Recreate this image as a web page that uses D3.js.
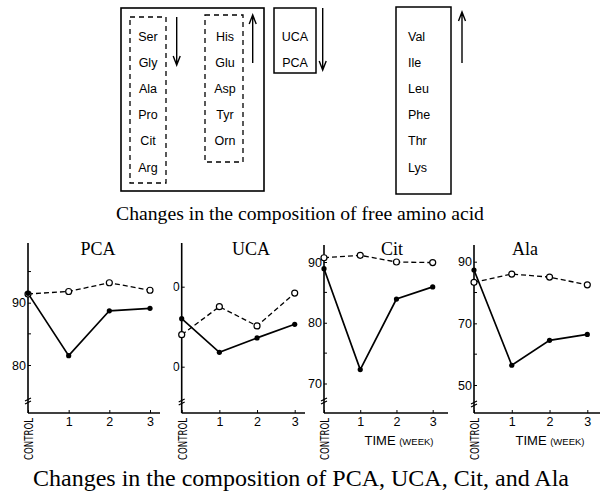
<!DOCTYPE html>
<html lang="en">
<head>
<meta charset="utf-8">
<title>Free amino acid changes</title>
<script src="https://cdn.jsdelivr.net/npm/d3@7"></script>
<style>
	body { margin: 0; background: white; }
	svg { display: block; }
	.serif { font-family: "Liberation Serif", "Times New Roman", serif; }
	.sans { font-family: "Liberation Sans", Arial, sans-serif; }
	.narrow { font-family: "Liberation Sans Narrow", "DejaVu Sans Condensed", sans-serif; }
</style>
</head>
<body>
<svg id="chart" width="605" height="493"></svg>
<script>
// top part: amino acid groups
var groupA = ["Ser", "Gly", "Ala", "Pro", "Cit", "Arg"]   // decrease
var groupB = ["His", "Glu", "Asp", "Tyr", "Orn"]          // increase
var groupC = ["UCA", "PCA"]                               // decrease
var groupD = ["Val", "Ile", "Leu", "Phe", "Thr", "Lys"]   // increase

// bottom part: time course
var weeks = ["CONTROL", "1", "2", "3"]
var panelNames = ["PCA", "UCA", "Cit", "Ala"]
var pcaSolid = [91.5, 81.5, 88.7, 89.1]
var pcaDashed = [91.4, 91.8, 93.2, 92.0]
var ucaSolid = [16.0, 11.8, 13.6, 15.3]
var ucaDashed = [14.0, 17.5, 15.1, 19.2]
var citSolid = [88.9, 72.3, 83.9, 85.9]
var citDashed = [90.7, 91.1, 90.0, 89.9]
var alaSolid = [87.3, 56.4, 64.5, 66.4]
var alaDashed = [83.3, 86.0, 85.0, 82.5]
var pcaTicks = [80, 90], pcaMinor = [85, 95]
var ucaTicks = [10, 20], ucaMinor = []
var citTicks = [70, 80, 90], citMinor = [75, 85]
var alaTicks = [50, 70, 90], alaMinor = [60, 80]

var svg = d3.select("#chart")

// ---------- top diagram ----------
var rowY = d3.scalePoint().domain(d3.range(6)).range([36, 167])

svg.append("rect").attr("x", 121).attr("y", 8).attr("width", 143).attr("height", 183)
	.attr("fill", "none").attr("stroke", "black").attr("stroke-width", 1.6)
svg.append("rect").attr("x", 130).attr("y", 17).attr("width", 36).attr("height", 166)
	.attr("fill", "none").attr("stroke", "black").attr("stroke-width", 1.3).attr("stroke-dasharray", "5,4")
svg.append("rect").attr("x", 205).attr("y", 15).attr("width", 38).attr("height", 147)
	.attr("fill", "none").attr("stroke", "black").attr("stroke-width", 1.3).attr("stroke-dasharray", "5,4")
svg.append("rect").attr("x", 274).attr("y", 8).attr("width", 42).attr("height", 65)
	.attr("fill", "none").attr("stroke", "black").attr("stroke-width", 1.5)
svg.append("rect").attr("x", 396).attr("y", 7).attr("width", 55).attr("height", 187)
	.attr("fill", "none").attr("stroke", "black").attr("stroke-width", 1.5)

function listText(arr, x, anchor) {
	svg.append("g").selectAll("text").data(arr).enter().append("text")
		.attr("class", "sans").attr("font-size", 12.5)
		.attr("x", x).attr("y", function(d, i) { return rowY(i) + 4.5 })
		.attr("text-anchor", anchor).text(function(d) { return d })
}
listText(groupA, 148, "middle")
listText(groupB, 225, "middle")
listText(groupC, 295, "middle")
listText(groupD, 408, "start")

// arrows, tip is (x,y2)
function arrow(x, y1, y2) {
	var dir = y2 > y1 ? -1 : 1
	svg.append("path")
		.attr("d", "M" + x + "," + y1 + "L" + x + "," + y2 +
			"M" + (x - 3.5) + "," + (y2 + dir * 9) + "L" + x + "," + y2 + "L" + (x + 3.5) + "," + (y2 + dir * 9))
		.attr("fill", "none").attr("stroke", "black").attr("stroke-width", 1.4)
}
arrow(176.7, 17, 65)
arrow(252.7, 63, 15)
arrow(322.7, 8, 70)
arrow(462, 63, 12)

svg.append("text").attr("class", "serif").attr("font-size", 19.7)
	.attr("x", 300).attr("y", 220).attr("text-anchor", "middle")
	.text("Changes in the composition of free amino acid")

// ---------- time-course panels ----------
var panels = [
	{ name: panelNames[0], solid: pcaSolid, dashed: pcaDashed, ticks: pcaTicks, minor: pcaMinor,
	  xr: [28, 150], xEnd: 160, yd: [80, 90], yr: [365, 302.7], top: 243, brk: 400, titleX: 98, time: false },
	{ name: panelNames[1], solid: ucaSolid, dashed: ucaDashed, ticks: ucaTicks, minor: ucaMinor,
	  xr: [181.7, 294.7], xEnd: 305, yd: [10, 20], yr: [366.7, 286.7], top: 243, brk: 401, titleX: 251, time: false, clip: true },
	{ name: panelNames[2], solid: citSolid, dashed: citDashed, ticks: citTicks, minor: citMinor,
	  xr: [324, 432.7], xEnd: 448, yd: [70, 90], yr: [383.5, 262], top: 245, brk: 400, titleX: 392, time: true },
	{ name: panelNames[3], solid: alaSolid, dashed: alaDashed, ticks: alaTicks, minor: alaMinor,
	  xr: [474, 587.3], xEnd: 600, yd: [50, 90], yr: [385, 261.7], top: 245, brk: 403, titleX: 525, time: true }
]
var baseY = 413

// UCA tick labels are cut by the PCA panel in the original, clip is in axis coords
svg.append("defs").append("clipPath").attr("id", "ucaClip")
	.append("rect").attr("x", -8.3).attr("y", 230).attr("width", 20).attr("height", 180)

panels.forEach(function(p) {
	var x = d3.scalePoint().domain(weeks).range(p.xr)
	var y = d3.scaleLinear().domain(p.yd).range(p.yr)
	var g = svg.append("g")
	var x0 = p.xr[0]

	// title
	g.append("text").attr("class", "serif").attr("font-size", 18)
		.attr("x", p.titleX).attr("y", 255).attr("text-anchor", "middle").text(p.name)

	// y axis line with break
	g.append("line").attr("x1", x0).attr("x2", x0).attr("y1", p.top).attr("y2", baseY)
		.attr("stroke", "black").attr("stroke-width", 1.6)
	g.append("path")
		.attr("d", "M" + (x0 - 3) + "," + (p.brk + 1) + "L" + (x0 + 3) + "," + (p.brk - 2) +
			"M" + (x0 - 3) + "," + (p.brk + 4) + "L" + (x0 + 3) + "," + (p.brk + 1))
		.attr("stroke", "black").attr("stroke-width", 1.2).attr("fill", "none")

	var yAxis = d3.axisLeft(y).tickValues(p.ticks).tickSizeInner(-3).tickSizeOuter(0).tickPadding(2)
	var ya = g.append("g").attr("transform", "translate(" + x0 + ",0)").call(yAxis)
	ya.select(".domain").remove()
	ya.selectAll("text").attr("class", "sans").attr("font-size", 12.5).attr("fill", "black")
	if (p.clip) ya.attr("clip-path", "url(#ucaClip)")
	g.selectAll(".minor").data(p.minor).enter().append("line").attr("class", "minor")
		.attr("x1", x0).attr("x2", x0 + 3)
		.attr("y1", function(d) { return y(d) }).attr("y2", function(d) { return y(d) })
		.attr("stroke", "black").attr("stroke-width", 1)

	// x axis
	g.append("line").attr("x1", x0).attr("x2", p.xEnd).attr("y1", baseY).attr("y2", baseY)
		.attr("stroke", "black").attr("stroke-width", 1.6)
	var xAxis = d3.axisBottom(x).tickSizeInner(-3).tickSizeOuter(0).tickPadding(4)
		.tickFormat(function(d) { return d == "CONTROL" ? "" : d })
	var xa = g.append("g").attr("transform", "translate(0," + baseY + ")").call(xAxis)
	xa.select(".domain").remove()
	xa.selectAll("text").attr("class", "sans").attr("font-size", 12.5).attr("fill", "black")
	g.append("text").attr("class", "narrow").attr("font-size", 12)
		.attr("transform", "translate(" + (x0 + 5) + ",418) rotate(-90)")
		.attr("text-anchor", "end").attr("textLength", 42).attr("lengthAdjust", "spacingAndGlyphs")
		.text(weeks[0])
	if (p.time) {
		var t = g.append("text").attr("class", "sans").attr("font-size", 13)
			.attr("x", (p.xr[0] + p.xEnd) / 2 + 13).attr("y", 445).attr("text-anchor", "middle")
		t.append("tspan").text("TIME ")
		t.append("tspan").attr("font-size", 9.5).text("(WEEK)")
	}

	// series
	var line = d3.line().x(function(d, i) { return x(weeks[i]) }).y(function(d) { return y(d) })
	g.append("path").datum(p.dashed).attr("d", line).attr("fill", "none")
		.attr("stroke", "black").attr("stroke-width", 1.3).attr("stroke-dasharray", "5,3")
	g.append("path").datum(p.solid).attr("d", line).attr("fill", "none")
		.attr("stroke", "black").attr("stroke-width", 1.7)
	g.selectAll(".open").data(p.dashed).enter().append("circle").attr("class", "open")
		.attr("cx", function(d, i) { return x(weeks[i]) }).attr("cy", function(d) { return y(d) })
		.attr("r", 3).attr("fill", "white").attr("stroke", "black").attr("stroke-width", 1.2)
	g.selectAll(".filled").data(p.solid).enter().append("circle").attr("class", "filled")
		.attr("cx", function(d, i) { return x(weeks[i]) }).attr("cy", function(d) { return y(d) })
		.attr("r", 2.6).attr("fill", "black")
})

svg.append("text").attr("class", "serif").attr("font-size", 24)
	.attr("x", 301).attr("y", 486).attr("text-anchor", "middle")
	.text("Changes in the composition of PCA, UCA, Cit, and Ala")
</script>
</body>
</html>
